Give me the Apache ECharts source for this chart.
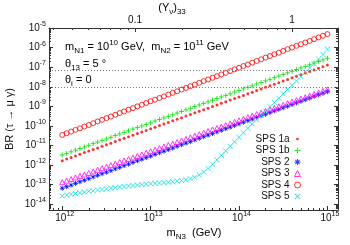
<!DOCTYPE html>
<html><head><meta charset="utf-8">
<script src="https://cdn.jsdelivr.net/npm/echarts@6/dist/echarts.min.js"></script>
<style>html,body{margin:0;padding:0;background:#fff}#c{width:350px;height:245px}</style>
</head><body><div id="c"></div>
<script>
// x: log10(m_N3 / GeV)
const logMN3 = [12,12.05,12.1,12.15,12.2,12.25,12.3,12.35,12.4,12.45,
12.5,12.55,12.6,12.65,12.7,12.75,12.8,12.85,12.9,12.95,
13,13.05,13.1,13.15,13.2,13.25,13.3,13.35,13.4,13.45,
13.5,13.55,13.6,13.65,13.7,13.75,13.8,13.85,13.9,13.95,
14,14.05,14.1,14.15,14.2,14.25,14.3,14.35,14.4,14.45,
14.5,14.55,14.6,14.65,14.7,14.75,14.8,14.85,14.9,14.95,15];
// y: log10 BR(tau -> mu gamma)
const logBR_SPS1a = [-11.77,-11.69,-11.61,-11.53,-11.44,-11.36,-11.28,-11.20,-11.12,-11.04,
-10.96,-10.88,-10.79,-10.71,-10.63,-10.55,-10.47,-10.39,-10.31,-10.23,
-10.14,-10.06,-9.98,-9.90,-9.82,-9.74,-9.66,-9.58,-9.49,-9.41,
-9.33,-9.25,-9.17,-9.09,-9.01,-8.93,-8.84,-8.76,-8.68,-8.60,
-8.52,-8.44,-8.36,-8.28,-8.19,-8.11,-8.03,-7.95,-7.87,-7.79,
-7.71,-7.63,-7.54,-7.46,-7.38,-7.30,-7.22,-7.14,-7.06,-6.98,-6.89];
const logBR_SPS1b = [-11.48,-11.40,-11.32,-11.23,-11.15,-11.07,-10.99,-10.90,-10.82,-10.74,
-10.66,-10.58,-10.49,-10.41,-10.33,-10.25,-10.16,-10.08,-10.00,-9.92,
-9.84,-9.75,-9.67,-9.59,-9.51,-9.43,-9.34,-9.26,-9.18,-9.10,
-9.01,-8.93,-8.85,-8.77,-8.69,-8.60,-8.52,-8.44,-8.36,-8.27,
-8.19,-8.11,-8.03,-7.95,-7.86,-7.78,-7.70,-7.62,-7.53,-7.45,
-7.37,-7.29,-7.21,-7.12,-7.04,-6.96,-6.88,-6.79,-6.71,-6.63,-6.55];
const logBR_SPS2 = [-13.18,-13.10,-13.02,-12.93,-12.85,-12.77,-12.69,-12.60,-12.52,-12.44,
-12.36,-12.28,-12.19,-12.11,-12.03,-11.95,-11.86,-11.78,-11.70,-11.62,
-11.54,-11.45,-11.37,-11.29,-11.21,-11.13,-11.04,-10.96,-10.88,-10.80,
-10.71,-10.63,-10.55,-10.47,-10.39,-10.30,-10.22,-10.14,-10.06,-9.97,
-9.89,-9.81,-9.73,-9.65,-9.56,-9.48,-9.40,-9.32,-9.23,-9.15,
-9.07,-8.99,-8.91,-8.82,-8.74,-8.66,-8.58,-8.49,-8.41,-8.33,-8.25];
const logBR_SPS3 = [-12.87,-12.79,-12.71,-12.63,-12.55,-12.48,-12.40,-12.32,-12.24,-12.16,
-12.08,-12.00,-11.92,-11.84,-11.76,-11.69,-11.61,-11.53,-11.45,-11.37,
-11.29,-11.21,-11.13,-11.05,-10.97,-10.90,-10.82,-10.74,-10.66,-10.58,
-10.50,-10.42,-10.34,-10.26,-10.18,-10.11,-10.03,-9.95,-9.87,-9.79,
-9.71,-9.63,-9.55,-9.47,-9.39,-9.32,-9.24,-9.16,-9.08,-9.00,
-8.92,-8.84,-8.76,-8.68,-8.60,-8.53,-8.45,-8.37,-8.29,-8.21,-8.13];
const logBR_SPS4 = [-10.46,-10.37,-10.29,-10.20,-10.12,-10.03,-9.95,-9.86,-9.77,-9.69,
-9.60,-9.52,-9.43,-9.34,-9.26,-9.17,-9.09,-9.00,-8.92,-8.83,
-8.74,-8.66,-8.57,-8.49,-8.40,-8.31,-8.23,-8.14,-8.06,-7.97,
-7.89,-7.80,-7.71,-7.63,-7.54,-7.46,-7.37,-7.29,-7.20,-7.11,
-7.03,-6.94,-6.86,-6.77,-6.68,-6.60,-6.51,-6.43,-6.34,-6.26,
-6.17,-6.08,-6.00,-5.91,-5.83,-5.74,-5.66,-5.57,-5.48,-5.40,-5.31];
const logBR_SPS5 = [-13.57,-13.53,-13.49,-13.45,-13.41,-13.38,-13.34,-13.31,-13.27,-13.24,
-13.21,-13.18,-13.15,-13.12,-13.09,-13.07,-13.04,-13.02,-12.99,-12.97,
-12.95,-12.93,-12.91,-12.89,-12.87,-12.85,-12.82,-12.79,-12.75,-12.70,
-12.62,-12.50,-12.35,-12.17,-11.96,-11.73,-11.50,-11.27,-11.04,-10.81,
-10.58,-10.35,-10.12,-9.90,-9.68,-9.46,-9.24,-9.02,-8.80,-8.58,
-8.36,-8.14,-7.92,-7.70,-7.48,-7.26,-7.04,-6.82,-6.59,-6.35,-6.08];
const seriesNames = ['SPS 1a','SPS 1b','SPS 2','SPS 3','SPS 4','SPS 5'];
const xTickExponents = [12,13,14,15];
const yTickExponents = [-14,-13,-12,-11,-10,-9,-8,-7,-6,-5];
const topTickLabels = [0.1, 1];
const limitBR = [6.8e-8, 1e-8];

const FONT = '"Liberation Sans", Arial, Helvetica, sans-serif';
const AX = '#333';
const TXT = '#111';
const X_MIN = 11.85, X_MAX = 15.12, Y_MIN = -14.29, Y_MAX = -5;
const T_MIN = -1.548, T_MAX = 0.293;

function minorLogTicks(lo, hi) {
  const out = [];
  for (let n = Math.floor(lo) - 1; n <= Math.ceil(hi); n++) {
    for (let k = 2; k <= 9; k++) {
      const v = n + Math.log10(k);
      if (v > lo && v < hi) out.push(v);
    }
  }
  return out;
}
const supLabel = v => '{b|10}{s|' + v + '}';
const tickRich = {
  b: {fontSize: 10, fontFamily: FONT, color: TXT, lineHeight: 15},
  s: {fontSize: 7, fontFamily: FONT, color: TXT, verticalAlign: 'top'}
};
const sym = {
  dot: 'path://M0,0M10,10M3,3L7,3L7,7L3,7Z',
  plus: 'path://M5,0L5,10M0,5L10,5',
  cross: 'path://M0,0L10,10M10,0L0,10',
  star: 'path://M5,0L5,10M0,5L10,5M1.5,1.5L8.5,8.5M8.5,1.5L1.5,8.5',
  plusFill: 'path://M4.2,0L5.8,0L5.8,4.2L10,4.2L10,5.8L5.8,5.8L5.8,10L4.2,10L4.2,5.8L0,5.8L0,4.2L4.2,4.2Z',
  crossFill: 'path://M0,1.2L1.2,0L5,3.8L8.8,0L10,1.2L6.2,5L10,8.8L8.8,10L5,6.2L1.2,10L0,8.8L3.8,5Z',
  starFill: 'path://M4.2,0L5.8,0L5.8,3.2L8.1,0.9L9.1,1.9L6.8,4.2L10,4.2L10,5.8L6.8,5.8L9.1,8.1L8.1,9.1L5.8,6.8L5.8,10L4.2,10L4.2,6.8L1.9,9.1L0.9,8.1L3.2,5.8L0,5.8L0,4.2L3.2,4.2L0.9,1.9L1.9,0.9L4.2,3.2Z'
};
const colors = ['#ff0000', '#00dd00', '#0000ff', '#ff00ff', '#ff0000', '#00dddd'];
const seriesData = [logBR_SPS1a, logBR_SPS1b, logBR_SPS2, logBR_SPS3, logBR_SPS4, logBR_SPS5];
const looks = [
  {symbol: 'circle', symbolSize: 3, itemStyle: {color: colors[0]}},
  {symbol: sym.plus, symbolSize: 5, itemStyle: {color: 'transparent', borderColor: colors[1], borderWidth: 1}},
  {symbol: sym.star, symbolSize: 5, itemStyle: {color: 'transparent', borderColor: colors[2], borderWidth: 1}},
  {symbol: 'triangle', symbolSize: 5, itemStyle: {color: 'transparent', borderColor: colors[3], borderWidth: 1}},
  {symbol: 'circle', symbolSize: 5, itemStyle: {color: 'transparent', borderColor: colors[4], borderWidth: 1}},
  {symbol: sym.cross, symbolSize: 5, itemStyle: {color: 'transparent', borderColor: colors[5], borderWidth: 1}}
];
const legendLooks = [
  {icon: sym.dot, itemStyle: {color: colors[0], borderWidth: 0}},
  {icon: sym.plusFill, itemStyle: {color: colors[1], borderWidth: 0}},
  {icon: sym.starFill, itemStyle: {color: colors[2], borderWidth: 0}},
  {icon: 'triangle', itemStyle: {color: 'transparent', borderColor: colors[3], borderWidth: 1}},
  {icon: 'circle', itemStyle: {color: 'transparent', borderColor: colors[4], borderWidth: 1}},
  {icon: sym.crossFill, itemStyle: {color: colors[5], borderWidth: 0}}
];
const series = seriesNames.map((name, i) => Object.assign({
  name, type: 'scatter', xAxisIndex: 0, yAxisIndex: 0,
  data: logMN3.map((x, j) => [x, seriesData[i][j]]),
  silent: true, animation: false, emphasis: {disabled: true}
}, looks[i]));
series[0].markLine = {
  silent: true, symbol: 'none', animation: false,
  label: {show: false},
  lineStyle: {type: [1, 2], color: '#777', width: 1},
  data: limitBR.map(v => ({yAxis: Math.log10(v)}))
};

function tickAxis(pos, min, max, vals, len, extra) {
  return Object.assign({
    type: 'value', gridIndex: 0, position: pos, min, max,
    axisLine: {show: false, onZero: false},
    axisTick: {show: true, inside: true, length: len, customValues: vals, lineStyle: {color: AX, width: 1}},
    axisLabel: {show: false},
    splitLine: {show: false}
  }, extra || {});
}
const lineOn = {show: true, onZero: false, lineStyle: {color: AX, width: 1}};

const chart = echarts.init(document.getElementById('c'), null, {renderer: 'canvas'});
chart.setOption({
  animation: false,
  backgroundColor: '#fff',
  textStyle: {fontFamily: FONT},
  grid: {left: 49, right: 12, top: 28, bottom: 35, containLabel: false, outerBoundsMode: 'none'},
  xAxis: [
    tickAxis('bottom', X_MIN, X_MAX, xTickExponents, 4, {
      axisLine: lineOn,
      axisLabel: {show: true, customValues: xTickExponents, formatter: supLabel, rich: tickRich, margin: 1, padding: [0, 0, 0, 5]}
    }),
    tickAxis('bottom', X_MIN, X_MAX, minorLogTicks(X_MIN, X_MAX), 2),
    tickAxis('top', T_MIN, T_MAX, topTickLabels.map(Math.log10), 4, {
      axisLine: lineOn,
      axisLabel: {show: true, customValues: topTickLabels.map(Math.log10),
        formatter: v => String(+Math.pow(10, v).toPrecision(2)),
        fontSize: 10, fontFamily: FONT, color: TXT, margin: 3}
    }),
    tickAxis('top', T_MIN, T_MAX, minorLogTicks(T_MIN, T_MAX), 2)
  ],
  yAxis: [
    tickAxis('left', Y_MIN, Y_MAX, yTickExponents, 4, {
      axisLine: lineOn,
      axisLabel: {show: true, customValues: yTickExponents, formatter: supLabel, rich: tickRich, margin: 3}
    }),
    tickAxis('left', Y_MIN, Y_MAX, minorLogTicks(Y_MIN, Y_MAX), 2),
    tickAxis('right', Y_MIN, Y_MAX, yTickExponents, 4, {axisLine: lineOn}),
    tickAxis('right', Y_MIN, Y_MAX, minorLogTicks(Y_MIN, Y_MAX), 2)
  ],
  legend: {
    orient: 'vertical', right: 49, top: 134, align: 'right', padding: 0,
    itemWidth: 6, itemHeight: 6, itemGap: 1.5,
    textStyle: {fontSize: 10, fontFamily: FONT, color: TXT, lineHeight: 10},
    data: seriesNames.map((n, i) => Object.assign({name: n}, legendLooks[i])),
    selectedMode: false
  },
  graphic: [
    {type: 'text', x: 10, y: 119, rotation: Math.PI / 2, silent: true,
      style: {text: 'BR (τ → μ γ)', font: '11px ' + FONT, fill: TXT, align: 'center', verticalAlign: 'middle'}},
    {type: 'text', x: 194, y: 233, silent: true,
      style: {text: '{n|m}{sub|N3}{n|  (GeV)}', align: 'center', verticalAlign: 'middle',
        rich: {n: {fontSize: 11, fontFamily: FONT, color: TXT, lineHeight: 16}, sub: {fontSize: 8, fontFamily: FONT, color: TXT, verticalAlign: 'bottom'}}}},
    {type: 'text', x: 172, y: 8, silent: true,
      style: {text: '{n|(Y}{sub|ν}{n|)}{sub|33}', align: 'center', verticalAlign: 'middle',
        rich: {n: {fontSize: 11, fontFamily: FONT, color: TXT, lineHeight: 16}, sub: {fontSize: 8, fontFamily: FONT, color: TXT, verticalAlign: 'bottom'}}}},
    {type: 'text', x: 65, y: 47, silent: true,
      style: {text: '{n|m}{sub|N1}{n| = 10}{sup|10}{n| GeV,  m}{sub|N2}{n| = 10}{sup|11}{n| GeV}', align: 'left', verticalAlign: 'middle',
        rich: {n: {fontSize: 11, fontFamily: FONT, color: TXT, lineHeight: 16}, sub: {fontSize: 8, fontFamily: FONT, color: TXT, verticalAlign: 'bottom'}, sup: {fontSize: 8, fontFamily: FONT, color: TXT, verticalAlign: 'top'}}}},
    {type: 'text', x: 65, y: 64, silent: true,
      style: {text: '{n|θ}{sub|13}{n| = 5 °}', align: 'left', verticalAlign: 'middle',
        rich: {n: {fontSize: 11, fontFamily: FONT, color: TXT, lineHeight: 16}, sub: {fontSize: 8, fontFamily: FONT, color: TXT, verticalAlign: 'bottom'}}}},
    {type: 'text', x: 65, y: 80, silent: true,
      style: {text: '{n|θ}{sub|i}{n| = 0}', align: 'left', verticalAlign: 'middle',
        rich: {n: {fontSize: 11, fontFamily: FONT, color: TXT, lineHeight: 16}, sub: {fontSize: 8, fontFamily: FONT, color: TXT, verticalAlign: 'bottom'}}}}
  ],
  series
});
</script>
</body></html>
